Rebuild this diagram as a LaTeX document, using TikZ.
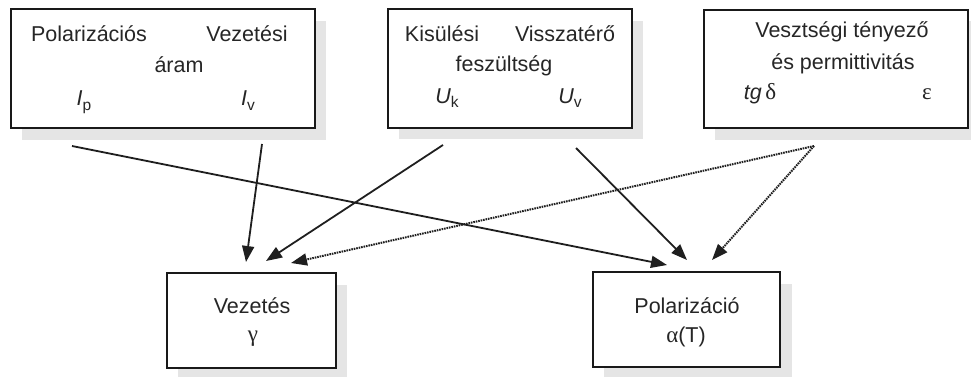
\documentclass[tikz,border=0pt]{standalone}
\usepackage{fontspec}
\setmainfont{Liberation Sans}
\newfontfamily\gr{Liberation Serif}
\usetikzlibrary{arrows.meta}
\newcommand{\sbs}[1]{\raisebox{-4.5pt}{\fontsize{15.5}{15.5}\selectfont #1}}
\newcommand{\grk}[1]{{\fontsize{23}{25}\selectfont\gr #1}}
\begin{document}
\begin{tikzpicture}[x=1pt,y=-1pt,
  box/.style={draw=black!90,line width=2pt,fill=white,inner sep=0pt},
  shadow/.style={fill=black!10,draw=none},
  txt/.style={anchor=base,inner sep=0pt,font=\fontsize{21.5}{25}\selectfont,text=black!85},
  arr/.style={line width=1.8pt,draw=black!88,-{Triangle[length=16pt,width=12pt]}},
  dot/.style={arr,line width=2pt,dash pattern=on 1.6pt off 0.9pt}]
\useasboundingbox (0,0) rectangle (971,377);
% shadows
\fill[shadow] (22,21) rectangle (326,140);
\fill[shadow] (399,21) rectangle (643,139);
\fill[shadow] (715,21) rectangle (979,140);
\fill[shadow] (178,285) rectangle (347,380);
\fill[shadow] (604,284) rectangle (792,379);
% boxes
\node[box,minimum width=304pt,minimum height=119pt] (b1) at (163,68.5) {};
\node[box,minimum width=244pt,minimum height=119pt] (b2) at (510,68.5) {};
\node[box,minimum width=264pt,minimum height=118pt] (b3) at (836,69) {};
\node[box,minimum width=169pt,minimum height=95pt] (bv) at (251.5,320.5) {};
\node[box,minimum width=187pt,minimum height=95pt] (bp) at (686.5,319.5) {};
% texts box 1
\node[txt] (t1a) at (89,42) {Polarizációs};
\node[txt] (t1b) at (247,42) {Vezetési};
\node[txt] (t1c) at (179,73) {áram};
\node[txt] (t1d) at (84,106) {\textit{I}\sbs{p}};
\node[txt] (t1e) at (248,106) {\textit{I}\sbs{v}};
% texts box 2
\node[txt] (t2a) at (442,42) {Kisülési};
\node[txt] (t2b) at (565,42) {Visszatérő};
\node[txt] (t2c) at (504,72) {feszültség};
\node[txt] (t2d) at (447,103) {\textit{U}\sbs{k}};
\node[txt] (t2e) at (570,103) {\textit{U}\sbs{v}};
% texts box 3
\node[txt] (t3a) at (842,38) {Vesztségi tényező};
\node[txt] (t3b) at (843,70) {és permittivitás};
\node[txt] (t3c) at (760,100) {\textit{tg}\,\grk{δ}};
\node[txt] (t3d) at (927,100) {\grk{ε}};
% bottom texts
\node[txt] (tva) at (252,313) {Vezetés};
\node[txt] (tvb) at (253,341) {\grk{γ}};
\node[txt] (tpa) at (687,313) {Polarizáció};
\node[txt] (tpb) at (686,342) {\grk{α}(T)};
% connector ends
\coordinate (s1) at (72,146);
\coordinate (s2) at (262,144);
\coordinate (s3) at (443,145);
\coordinate (s4) at (576,148);
\coordinate (s5) at (814,146);
\coordinate (e1) at (667,265);
\coordinate (e2) at (246,262);
\coordinate (e3) at (266,261);
\coordinate (e4) at (687,260);
\coordinate (e5) at (291,263);
\coordinate (e6) at (712,260);
\draw[arr] (s1) -- (e1);
\draw[arr] (s2) -- (e2);
\draw[arr] (s3) -- (e3);
\draw[arr] (s4) -- (e4);
\draw[dot] (s5) -- (e5);
\draw[dot] (s5) -- (e6);
\end{tikzpicture}
\end{document}
